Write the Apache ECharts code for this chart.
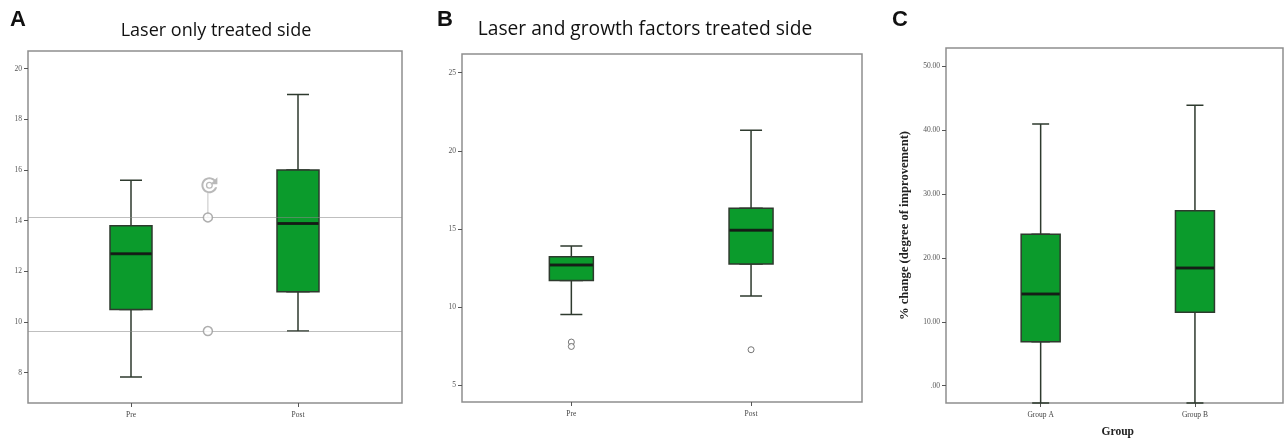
<!DOCTYPE html>
<html><head><meta charset="utf-8">
<script src="https://cdn.jsdelivr.net/npm/echarts@6/dist/echarts.min.js"></script>
<style>html,body{margin:0;padding:0;background:#fff}#c{width:1285px;height:440px}</style>
</head><body><div id="c"></div>
<script>
// ---------- DATA ----------
// five-number summaries: [lower whisker, Q1, median, Q3, upper whisker]
const catsA = ['Pre', 'Post'];
const boxA = [[7.83, 10.49, 12.69, 13.8, 15.6], [9.64, 11.19, 13.89, 16.0, 18.98]];
const refLinesA = [14.13, 9.64];
const refPointX = 0.481;          // position on hidden 0..1 axis between the two boxes
const refIconY = 15.4;
const ticksA = [8, 10, 12, 14, 16, 18, 20];

const catsB = ['Pre', 'Post'];
const boxB = [[9.5, 11.68, 12.68, 13.2, 13.9], [10.7, 12.74, 14.9, 16.32, 21.31]];
const outliersB = [[0, 7.74], [0, 7.46], [1, 7.25]];
const ticksB = [5, 10, 15, 20, 25];

const catsC = ['Group A', 'Group B'];
const boxC = [[-2.7, 6.87, 14.33, 23.7, 40.9], [-2.7, 11.47, 18.39, 27.34, 43.86]];
const ticksC = [0, 10, 20, 30, 40, 50];

// ---------- STYLE ----------
const serif = 'Liberation Serif';
const green = '#0b9b2c';
const edge = '#2e3a2e';
const frameCol = '#8e8e8e';

const panels = [
  {frame: [28, 51, 374, 352], box: [47.5, 334], min: 6.8, max: 20.7, ticks: ticksA, cats: catsA, data: boxA, bw: 42, cap: 22,
   fmt: v => String(v)},
  {frame: [462, 54, 400, 348], box: [481.5, 359.4], min: 3.9, max: 26.2, ticks: ticksB, cats: catsB, data: boxB, bw: 44, cap: 22,
   fmt: v => String(v)},
  {frame: [946, 48, 337, 355], box: [963.5, 308.6], min: -2.7, max: 52.8, ticks: ticksC, cats: catsC, data: boxC, bw: 39, cap: 17,
   fmt: v => v === 0 ? '.00' : v.toFixed(2)}
];

const grid = [], xAxis = [], yAxis = [], series = [];
panels.forEach((p, i) => {
  const [l, t, w, h] = p.frame;
  const fg = 3 * i, cg = 3 * i + 1, bg = 3 * i + 2;
  grid.push({left: l, top: t, width: w, height: h, show: true, borderColor: frameCol, borderWidth: 1.5, outerBoundsMode: 'none'});
  grid.push({left: p.box[0], top: t, width: p.box[1], height: h, show: false, outerBoundsMode: 'none'});
  grid.push({left: p.box[0], top: t, width: p.box[1], height: h, show: false, outerBoundsMode: 'none'});

  xAxis.push({type: 'value', gridIndex: fg, min: 0, max: 1, show: false});
  xAxis.push({type: 'category', gridIndex: cg, data: p.cats, boundaryGap: true, show: false});
  const bx = {type: 'category', gridIndex: bg, data: p.cats, boundaryGap: true,
    axisLine: {show: false, onZero: false}, splitLine: {show: false},
    axisTick: {show: true, alignWithLabel: true, length: 4, lineStyle: {color: '#555', width: 1}},
    axisLabel: {margin: 8, fontFamily: serif, fontSize: 7.5, color: '#444'}};
  if (i === 2) {
    bx.name = 'Group'; bx.nameLocation = 'middle'; bx.nameGap = 23;
    bx.nameTextStyle = {fontFamily: serif, fontWeight: 'bold', fontSize: 11.5, color: '#222'};
  }
  xAxis.push(bx);

  const fy = {type: 'value', gridIndex: fg, min: p.min, max: p.max,
    splitLine: {show: false}, axisLine: {show: false, onZero: false},
    axisTick: {show: true, length: 4, customValues: p.ticks, lineStyle: {color: '#555', width: 1}},
    axisLabel: {show: true, customValues: p.ticks, margin: 6, fontFamily: serif, fontSize: 7.5, color: '#555', formatter: p.fmt}};
  if (i === 2) {
    fy.name = '% change (degree of improvement)'; fy.nameLocation = 'middle'; fy.nameGap = 35; fy.nameRotate = 90;
    fy.nameTextStyle = {fontFamily: serif, fontWeight: 'bold', fontSize: 12.6, color: '#222'};
  }
  yAxis.push(fy);
  yAxis.push({type: 'value', gridIndex: cg, min: p.min, max: p.max, show: false});
  yAxis.push({type: 'value', gridIndex: bg, min: p.min, max: p.max, show: false});

  const style = {color: green, borderColor: edge, borderWidth: 1.5};
  // whiskers with short caps
  series.push({type: 'boxplot', xAxisIndex: cg, yAxisIndex: cg, data: p.data, boxWidth: [p.cap, p.cap],
    itemStyle: style, silent: true, animation: false});
  // box body (whisker ends collapsed onto the box edges)
  series.push({type: 'boxplot', xAxisIndex: bg, yAxisIndex: bg,
    data: p.data.map(d => [d[1], d[1], d[2], d[3], d[3]]), boxWidth: [p.bw, p.bw],
    itemStyle: style, silent: true, animation: false, z: 3});
  // thick median line
  series.push({type: 'scatter', xAxisIndex: bg, yAxisIndex: bg, data: p.data.map((d, k) => [k, d[2]]),
    symbol: 'rect', symbolSize: [p.bw - 1, 3], itemStyle: {color: '#111'}, silent: true, animation: false, z: 5});
});

// Panel A reference lines / markers
series.push({type: 'line', xAxisIndex: 0, yAxisIndex: 0, data: [], silent: true, animation: false, z: 6,
  markLine: {silent: true, symbol: 'none', label: {show: false}, animation: false,
    lineStyle: {color: '#8a8a8a', opacity: 0.55, width: 1, type: 'solid'},
    data: refLinesA.map(v => ({yAxis: v}))}});
series.push({type: 'line', xAxisIndex: 0, yAxisIndex: 0, data: [[refPointX, refLinesA[0]], [refPointX, refIconY - 0.3]],
  showSymbol: false, lineStyle: {color: '#c4c4c4', width: 1}, silent: true, animation: false});
series.push({type: 'scatter', xAxisIndex: 0, yAxisIndex: 0, data: refLinesA.map(v => [refPointX, v]),
  symbol: 'circle', symbolSize: 9, itemStyle: {color: '#fff', borderColor: '#9a9a9a', borderWidth: 1.5}, silent: true, animation: false, z: 7});
series.push({type: 'scatter', xAxisIndex: 0, yAxisIndex: 0, data: [[refPointX + 0.004, refIconY]],
  symbol: 'path://M17.65 6.35C16.2 4.9 14.21 4 12 4c-4.42 0-7.99 3.58-7.99 8s3.57 8 7.99 8c3.73 0 6.84-2.55 7.73-6h-2.08c-.82 2.33-3.04 4-5.65 4-3.31 0-6-2.69-6-6s2.69-6 6-6c1.66 0 3.14.69 4.22 1.78L13 11h7V4l-2.35 2.35zM12 8.5a3.5 3.5 0 1 0 0 7a3.5 3.5 0 1 0 0-7zm0 1.3a2.2 2.2 0 1 1 0 4.4a2.2 2.2 0 1 1 0-4.4z',
  symbolSize: 16, itemStyle: {color: '#a8a8a8'}, silent: true, animation: false});

// Panel B outliers
series.push({type: 'scatter', xAxisIndex: 5, yAxisIndex: 5, data: outliersB,
  symbol: 'circle', symbolSize: 6, itemStyle: {color: '#fff', borderColor: '#555', borderWidth: 1}, silent: true, animation: false, z: 4});

const txt = (x, y, s, font) => ({type: 'text', x, y, silent: true,
  style: {text: s, font, fill: '#111', align: 'center', verticalAlign: 'middle'}});

const option = {
  backgroundColor: '#fff',
  animation: false,
  grid, xAxis, yAxis, series,
  graphic: [
    txt(18, 20, 'A', 'bold 22px "Liberation Sans"'),
    txt(445, 20, 'B', 'bold 22px "Liberation Sans"'),
    txt(900, 20, 'C', 'bold 22px "Liberation Sans"'),
    txt(216, 31, 'Laser only treated side', '18px "Open Sans"'),
    txt(645, 30, 'Laser and growth factors treated side', '19.2px "Open Sans"')
  ]
};
const chart = echarts.init(document.getElementById('c'));
chart.setOption(option);
</script>
</body></html>
